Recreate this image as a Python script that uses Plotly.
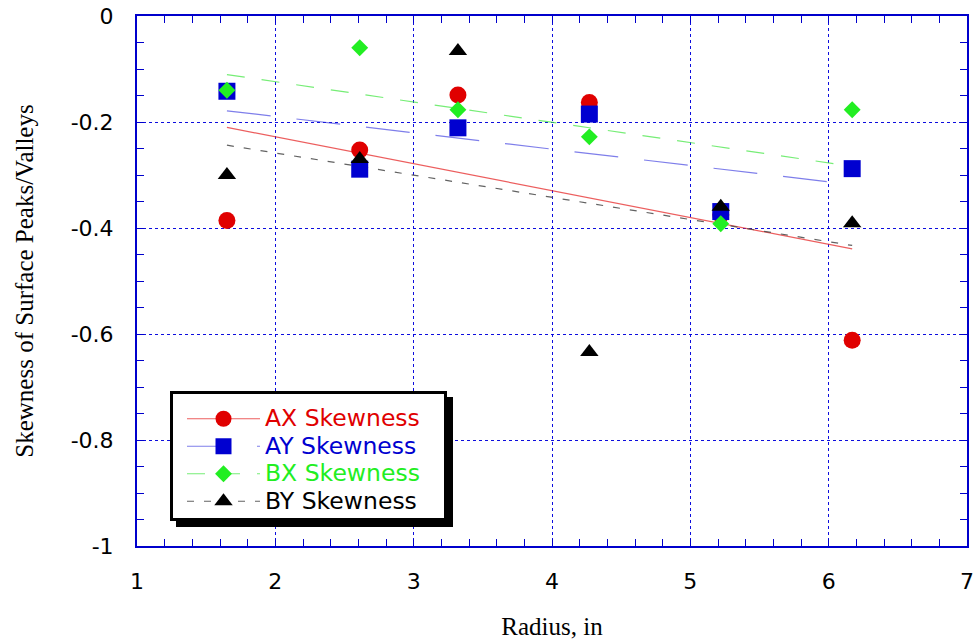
import numpy as np
import plotly.graph_objects as go

# ---- data ----
radius = [1.65, 2.61, 3.32, 4.27, 5.22, 6.17]
ax_skew = [-0.386, -0.253, -0.149, -0.163, -0.375, -0.612]
ay_skew = [-0.142, -0.289, -0.211, -0.185, -0.369, -0.288]
bx_skew = [-0.140, -0.060, -0.177, -0.228, -0.392, -0.177]
by_skew = [-0.300, -0.270, -0.066, -0.634, -0.360, -0.391]

series_names = ["AX Skewness", "AY Skewness", "BX Skewness", "BY Skewness"]
series_values = [ax_skew, ay_skew, bx_skew, by_skew]

y_tick_vals = [0, -0.2, -0.4, -0.6, -0.8, -1]
y_tick_text = ["0", "-0.2", "-0.4", "-0.6", "-0.8", "-1"]
x_tick_vals = [1, 2, 3, 4, 5, 6, 7]
x_tick_text = ["1", "2", "3", "4", "5", "6", "7"]

# ---- styles ----
marker_colors = ["#e00000", "#0000d0", "#22ee22", "#000000"]
text_colors = ["#e00000", "#0000d0", "#22ee22", "#000000"]
line_colors = ["rgba(230,40,40,0.75)", "rgba(40,40,220,0.6)", "rgba(60,230,60,0.7)", "rgba(70,70,70,0.85)"]
symbols = ["circle", "square", "diamond", "triangle-up"]
sizes = [17, 17, 13, 16]
dashes = ["solid", "44px,26px", "18px,17px", "7px,10px"]
sans = "DejaVu Sans, Liberation Sans, Arial"
serif = "Liberation Serif, Times New Roman"

fig = go.Figure()

xs = np.array(radius)
# fit lines (least squares) drawn from min to max radius
for name, vals, lc, dash in zip(series_names, series_values, line_colors, dashes):
    k, b = np.polyfit(xs, np.array(vals), 1)
    xx = [xs.min(), xs.max()]
    fig.add_trace(go.Scatter(x=xx, y=[k * v + b for v in xx], mode="lines",
                             line=dict(color=lc, width=1.2, dash=dash),
                             showlegend=False, hoverinfo="skip"))

# markers
for name, vals, mc, sym, sz in zip(series_names, series_values, marker_colors, symbols, sizes):
    fig.add_trace(go.Scatter(x=radius, y=vals, mode="markers", name=name,
                             marker=dict(color=mc, symbol=sym, size=sz, line=dict(width=0)),
                             showlegend=False))

# legend entries
for name, mc, tc, lc, sym, sz, dash in zip(series_names, marker_colors, text_colors, line_colors,
                                           symbols, sizes, dashes):
    fig.add_trace(go.Scatter(x=[None], y=[None], mode="lines+markers",
                             name=f"<span style='font-size:23.5px;color:{tc}'>{name}</span>",
                             marker=dict(color=mc, symbol=sym, size=sz, line=dict(width=0)),
                             line=dict(color=lc, width=1.2, dash=dash)))

axis_blue = "#0000cc"
grid_blue = "rgba(0,0,220,0.95)"

fig.update_xaxes(range=[1, 7], tickmode="array", tickvals=x_tick_vals, ticktext=x_tick_text,
                 showline=True, linecolor=axis_blue, linewidth=2, mirror="ticks",
                 ticks="inside", ticklen=7, tickcolor=axis_blue, tickwidth=1,
                 showgrid=True, gridcolor=grid_blue, gridwidth=1.2, griddash="dot",
                 zeroline=False, ticklabelstandoff=15, automargin=False,
                 minor=dict(tickmode="linear", tick0=1, dtick=0.2, ticks="inside", ticklen=7,
                            tickcolor=axis_blue, tickwidth=1, showgrid=False),
                 tickfont=dict(family=sans, size=22, color="black"),
                 title=dict(text="Radius, in", standoff=28,
                            font=dict(family=serif, size=25, color="black")))

fig.update_yaxes(range=[-1, 0], tickmode="array", tickvals=y_tick_vals, ticktext=y_tick_text,
                 showline=True, linecolor=axis_blue, linewidth=2, mirror="ticks",
                 ticks="inside", ticklen=7, tickcolor=axis_blue, tickwidth=1,
                 showgrid=True, gridcolor=grid_blue, gridwidth=1.2, griddash="dot",
                 zeroline=False, ticklabelstandoff=17, automargin=False,
                 minor=dict(tickmode="linear", tick0=0, dtick=0.05, ticks="inside", ticklen=7,
                            tickcolor=axis_blue, tickwidth=1, showgrid=False),
                 tickfont=dict(family=sans, size=22, color="black"),
                 title=dict(text="Skewness of Surface Peaks/Valleys", standoff=30,
                            font=dict(family=serif, size=25, color="black")))

# legend frame: drop shadow + white bordered box (paper coords)
fig.add_shape(type="rect", xref="paper", yref="paper",
              x0=(176 - 137) / 830, x1=(453 - 137) / 830, y0=(546 - 527) / 530, y1=(546 - 397) / 530,
              fillcolor="black", line=dict(width=0), layer="above")
fig.add_shape(type="rect", xref="paper", yref="paper",
              x0=(171.5 - 137) / 830, x1=(445.5 - 137) / 830, y0=(546 - 519.5) / 530, y1=(546 - 392.5) / 530,
              fillcolor="white", line=dict(color="black", width=3), layer="above")

fig.update_layout(
    width=979, height=640,
    margin=dict(l=137, r=12, t=16, b=94),
    paper_bgcolor="white", plot_bgcolor="white",
    showlegend=True,
    legend=dict(x=(182 - 137) / 830, y=(546 - 400) / 530, xanchor="left", yanchor="top",
                xref="paper", yref="paper",
                bgcolor="rgba(0,0,0,0)", borderwidth=0,
                font=dict(family=sans, size=18.85, color="black"),
                itemwidth=73, tracegroupgap=0, itemclick=False),
)

fig.write_html("out.html")
